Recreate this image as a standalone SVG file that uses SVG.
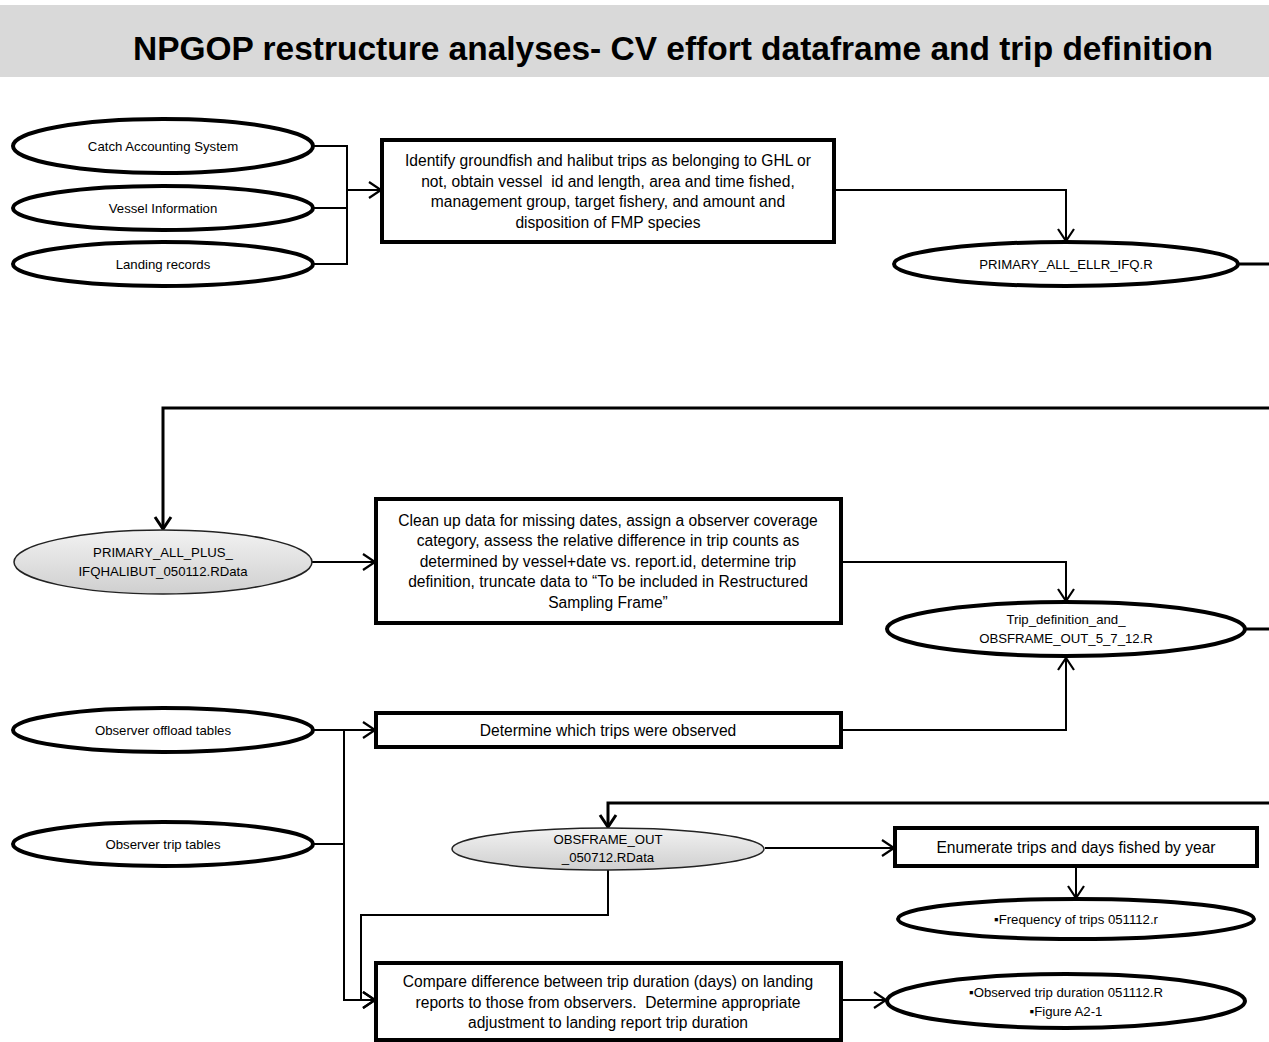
<svg xmlns="http://www.w3.org/2000/svg" width="1269" height="1042" viewBox="0 0 1269 1042">
<style>
  text { font-family: "Liberation Sans", "DejaVu Sans", sans-serif; fill: #000; text-anchor: middle; white-space: pre; }
  .title { font-weight: bold; font-size: 34px; }
  .box { fill: #fff; stroke: #000; stroke-width: 4; }
  .ell { fill: #fff; stroke: #000; stroke-width: 4; }
  .gell { fill: url(#gg); stroke: #222; stroke-width: 1.5; }
  .bt { font-size: 15.6px; }
  .et { font-size: 13.2px; }
  .c { fill: none; stroke: #000; stroke-width: 2; }
  .ck { fill: none; stroke: #000; stroke-width: 3; }
</style>
<defs>
  <linearGradient id="gg" x1="0" y1="0" x2="0" y2="1">
    <stop offset="0" stop-color="#f2f2f2"/>
    <stop offset="1" stop-color="#cfcfcf"/>
  </linearGradient>
  <marker id="a" markerUnits="userSpaceOnUse" markerWidth="20" markerHeight="20" viewBox="0 0 20 20" refX="17" refY="10" orient="auto">
    <path d="M5,2 L17,10 L5,18" fill="none" stroke="#000" stroke-width="2.2"/>
  </marker>
  <marker id="ak" markerUnits="userSpaceOnUse" markerWidth="20" markerHeight="20" viewBox="0 0 20 20" refX="17" refY="10" orient="auto">
    <path d="M5,2 L17,10 L5,18" fill="none" stroke="#000" stroke-width="3"/>
  </marker>
</defs>

<rect x="0" y="5" width="1269" height="72" fill="#d9d9d9"/>
<text class="title" x="673" y="60" textLength="1080" lengthAdjust="spacingAndGlyphs">NPGOP restructure analyses- CV effort dataframe and trip definition</text>

<g id="connectors">
  <polyline class="c" points="313,146 347,146 347,264 313,264"/>
  <line class="c" x1="313" y1="208" x2="347" y2="208"/>
  <line class="c" x1="347" y1="190" x2="381" y2="190" marker-end="url(#a)"/>
  <polyline class="c" points="834,190 1066,190 1066,241" marker-end="url(#a)"/>
  <line class="ck" x1="1238" y1="264" x2="1269" y2="264"/>
  <polyline class="ck" points="1269,408 163,408 163,529" marker-end="url(#ak)"/>
  <line class="c" x1="312" y1="562" x2="375" y2="562" marker-end="url(#a)"/>
  <polyline class="c" points="841,562 1066,562 1066,601" marker-end="url(#a)"/>
  <line class="ck" x1="1245" y1="629" x2="1269" y2="629"/>
  <line class="c" x1="313" y1="730" x2="375" y2="730" marker-end="url(#a)"/>
  <polyline class="c" points="344,730 344,1000 375,1000" marker-end="url(#a)"/>
  <line class="c" x1="313" y1="844" x2="344" y2="844"/>
  <polyline class="c" points="841,730 1066,730 1066,658" marker-end="url(#a)"/>
  <polyline class="ck" points="1269,803 608,803 608,827" marker-end="url(#ak)"/>
  <line class="c" x1="765" y1="848" x2="894" y2="848" marker-end="url(#a)"/>
  <polyline class="c" points="1076,866 1076,898" marker-end="url(#a)"/>
  <polyline class="c" points="608,870 608,915 361,915 361,1000 375,1000" marker-end="url(#a)"/>
  <line class="c" x1="841" y1="1000" x2="886" y2="1000" marker-end="url(#a)"/>
</g>

<g id="cas">
  <ellipse class="ell" cx="163" cy="146" rx="150" ry="27"/>
  <text class="et" x="163" y="151">Catch Accounting System</text>
</g>
<g id="vessel">
  <ellipse class="ell" cx="163" cy="208" rx="150" ry="22"/>
  <text class="et" x="163" y="213">Vessel Information</text>
</g>
<g id="landing">
  <ellipse class="ell" cx="163" cy="264" rx="150" ry="22"/>
  <text class="et" x="163" y="269">Landing records</text>
</g>
<g id="identify">
  <rect class="box" x="382" y="140" width="452" height="102"/>
  <text class="bt" x="608" y="166">Identify groundfish and halibut trips as belonging to GHL or</text>
  <text class="bt" x="608" y="187">not, obtain vessel  id and length, area and time fished,</text>
  <text class="bt" x="608" y="207">management group, target fishery, and amount and</text>
  <text class="bt" x="608" y="228">disposition of FMP species</text>
</g>
<g id="primary_ellr">
  <ellipse class="ell" cx="1066" cy="264" rx="172" ry="22"/>
  <text class="et" x="1066" y="269">PRIMARY_ALL_ELLR_IFQ.R</text>
</g>
<g id="primary_plus">
  <ellipse class="gell" cx="163" cy="562" rx="149" ry="32"/>
  <text class="et" x="163" y="557">PRIMARY_ALL_PLUS_</text>
  <text class="et" x="163" y="576">IFQHALIBUT_050112.RData</text>
</g>
<g id="cleanup">
  <rect class="box" x="376" y="499" width="465" height="124"/>
  <text class="bt" x="608" y="526">Clean up data for missing dates, assign a observer coverage</text>
  <text class="bt" x="608" y="546">category, assess the relative difference in trip counts as</text>
  <text class="bt" x="608" y="567">determined by vessel+date vs. report.id, determine trip</text>
  <text class="bt" x="608" y="587">definition, truncate data to “To be included in Restructured</text>
  <text class="bt" x="608" y="608">Sampling Frame”</text>
</g>
<g id="tripdef">
  <ellipse class="ell" cx="1066" cy="629" rx="179" ry="27"/>
  <text class="et" x="1066" y="624">Trip_definition_and_</text>
  <text class="et" x="1066" y="643">OBSFRAME_OUT_5_7_12.R</text>
</g>
<g id="offload">
  <ellipse class="ell" cx="163" cy="730" rx="150" ry="22"/>
  <text class="et" x="163" y="735">Observer offload tables</text>
</g>
<g id="observed">
  <rect class="box" x="376" y="713" width="465" height="34"/>
  <text class="bt" x="608" y="736">Determine which trips were observed</text>
</g>
<g id="triptables">
  <ellipse class="ell" cx="163" cy="844" rx="150" ry="22"/>
  <text class="et" x="163" y="849">Observer trip tables</text>
</g>
<g id="obsframe">
  <ellipse class="gell" cx="608" cy="849" rx="156" ry="21"/>
  <text class="et" x="608" y="844">OBSFRAME_OUT</text>
  <text class="et" x="608" y="862">_050712.RData</text>
</g>
<g id="enumerate">
  <rect class="box" x="895" y="828" width="362" height="38"/>
  <text class="bt" x="1076" y="853">Enumerate trips and days fished by year</text>
</g>
<g id="frequency">
  <ellipse class="ell" cx="1076" cy="919" rx="178" ry="20"/>
  <text class="et" x="1076" y="924">▪Frequency of trips 051112.r</text>
</g>
<g id="compare">
  <rect class="box" x="376" y="963" width="465" height="77"/>
  <text class="bt" x="608" y="987">Compare difference between trip duration (days) on landing</text>
  <text class="bt" x="608" y="1008">reports to those from observers.  Determine appropriate</text>
  <text class="bt" x="608" y="1028">adjustment to landing report trip duration</text>
</g>
<g id="duration">
  <ellipse class="ell" cx="1066" cy="1001" rx="179" ry="27"/>
  <text class="et" x="1066" y="997">▪Observed trip duration 051112.R</text>
  <text class="et" x="1066" y="1016">▪Figure A2-1</text>
</g>
</svg>
